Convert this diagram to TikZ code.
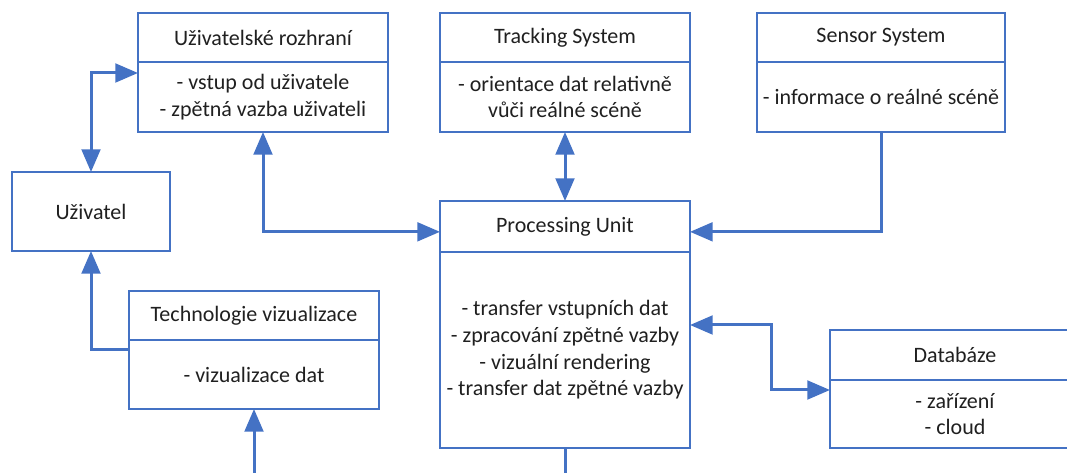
\documentclass[tikz,border=0pt]{standalone}
\usepackage{fontspec}
\setmainfont{Carlito}
\usetikzlibrary{arrows.meta}
\definecolor{ofblue}{HTML}{4472C4}
\definecolor{txt}{HTML}{202020}
\begin{document}
\begin{tikzpicture}[x=0.75pt,y=-0.75pt,
  box/.style={draw=ofblue, fill=white, line width=1.5pt, inner sep=0pt, outer sep=0pt, align=center, text=txt, font=\fontsize{16.5}{20}\selectfont},
  wA/.style={minimum width=187.5pt},
  link/.style={draw=ofblue, line width=2.25pt},
  one/.style={link, -{Triangle[length=17pt,width=14pt]}},
  dbl/.style={link, {Triangle[length=17pt,width=14pt]}-{Triangle[length=17pt,width=14pt]}}]
\useasboundingbox (0,0) rectangle (1067,473);
\clip (0,0) rectangle (1067,473);
% Uzivatelske rozhrani
\node[box, wA, minimum height=36.75pt] (urh) at (263,37.5) {Uživatelské rozhraní};
\node[box, wA, minimum height=52.5pt] (urb) at (263,97) {- vstup od uživatele\\- zpětná vazba uživateli};
% Tracking System
\node[box, wA, minimum height=36.75pt] (trh) at (565,37.5) {Tracking System};
\node[box, wA, minimum height=52.5pt] (trb) at (565,97) {- orientace dat relativně\\vůči reálné scéně};
% Sensor System
\node[box, minimum width=186pt, minimum height=36.75pt] (seh) at (881,37.5) {Sensor System};
\node[box, minimum width=186pt, minimum height=52.5pt] (seb) at (881,97) {- informace o reálné scéně};
% Uzivatel
\node[box, minimum width=118.5pt, minimum height=59.25pt] (uz) at (91,211.5) {Uživatel};
% Technologie vizualizace
\node[box, wA, minimum height=36.75pt] (tvh) at (254,315.5) {Technologie vizualizace};
\node[box, wA, minimum height=51.75pt] (tvb) at (254,374.5) {- vizualizace dat};
% Processing Unit
\node[box, wA, minimum height=38.25pt] (puh) at (565,226.5) {Processing Unit};
\node[box, wA, minimum height=147pt] (pub) at (565,350) {- transfer vstupních dat\\- zpracování zpětné vazby\\- vizuální rendering\\- transfer dat zpětné vazby};
% Databaze
\node[box, wA, minimum height=37.5pt] (dbh) at (955,355) {Databáze};
\node[box, wA, minimum height=51pt] (dbb) at (955,414) {- zařízení\\- cloud};
% free ends
\coordinate (bot1) at (254,473);
\coordinate (bot2) at (565,473);
% connectors
\draw[dbl] (uz.north) |- ([yshift=18pt]urb.west);
\draw[dbl] (urb.south) |- ([yshift=-4pt]puh.west);
\draw[dbl] (trb.south) -- (puh.north);
\draw[one] (seb.south) |- ([yshift=-4pt]puh.east);
\draw[dbl] ([yshift=18.75pt]pub.east) -- ++(60.75pt,0) |- ([yshift=18pt]dbb.west);
\draw[one] ([yshift=19pt]tvb.west) -| (uz.south);
\draw[one] (bot1) -- (tvb.south);
\draw[link] (pub.south) -- (bot2);
\end{tikzpicture}
\end{document}
